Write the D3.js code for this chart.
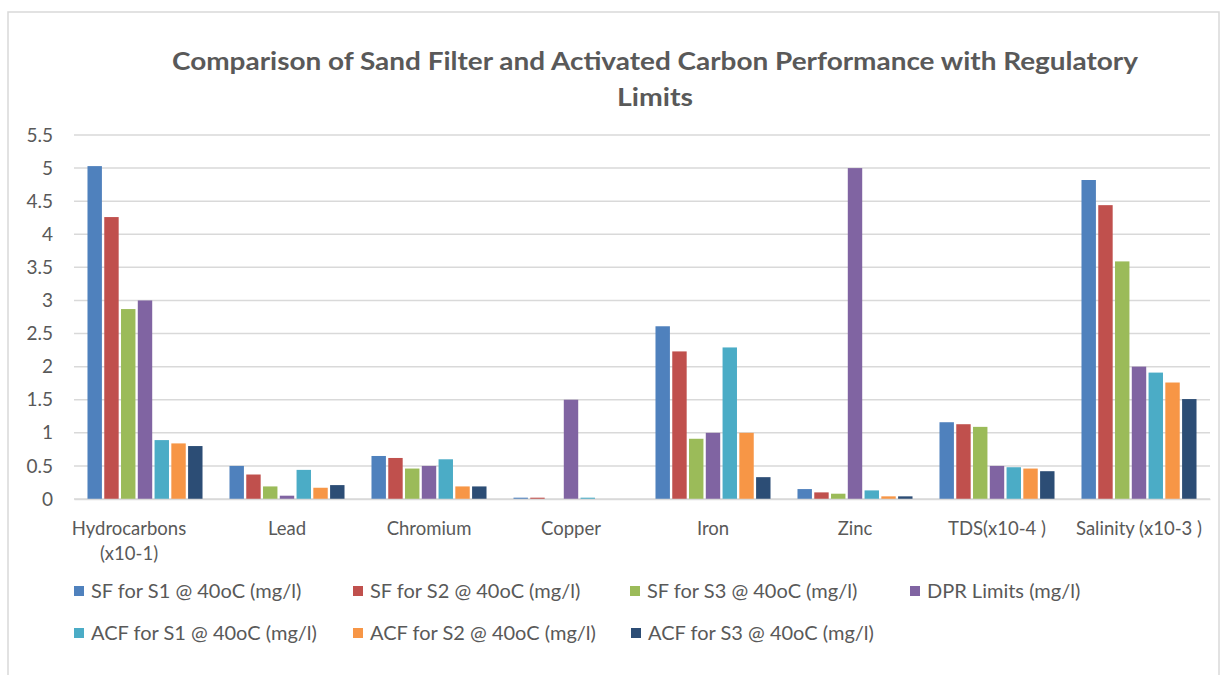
<!DOCTYPE html>
<html><head><meta charset="utf-8">
<script src="https://cdn.jsdelivr.net/npm/d3@7"></script>
<style>
body{margin:0;background:#fff;}
text{font-family:Lato,"Open Sans",sans-serif;fill:#595959;}
</style></head>
<body><svg id="c" width="1224" height="675"></svg>
<script>
const categories = ["Hydrocarbons|(x10-1)","Lead","Chromium","Copper","Iron","Zinc","TDS(x10-4 )","Salinity (x10-3 )"];
const seriesNames = ["SF for S1 @ 40oC (mg/l)","SF for S2 @ 40oC (mg/l)","SF for S3 @ 40oC (mg/l)","DPR Limits (mg/l)","ACF for S1 @ 40oC (mg/l)","ACF for S2 @ 40oC (mg/l)","ACF for S3 @ 40oC (mg/l)"];
const colors = ["#4F81BD","#C0504D","#9BBB59","#8064A2","#4BACC6","#F79646","#2C4D75"];
const sf1  = [5.03,0.50,0.65,0.02,2.61,0.15,1.16,4.82];
const sf2  = [4.26,0.37,0.62,0.02,2.23,0.10,1.13,4.44];
const sf3  = [2.87,0.19,0.46,0.00,0.91,0.08,1.09,3.59];
const dpr  = [3.00,0.05,0.50,1.50,1.00,5.00,0.50,2.00];
const acf1 = [0.89,0.44,0.60,0.02,2.29,0.13,0.48,1.91];
const acf2 = [0.84,0.17,0.19,0.00,1.00,0.04,0.46,1.76];
const acf3 = [0.80,0.21,0.19,0.00,0.33,0.04,0.42,1.51];
const yTicks = [0,0.5,1,1.5,2,2.5,3,3.5,4,4.5,5,5.5];
const seriesValues = [sf1,sf2,sf3,dpr,acf1,acf2,acf3];

const svg = d3.select("#c");
svg.append("rect").attr("x",8).attr("y",12).attr("width",1211).attr("height",700)
  .attr("fill","#fff").attr("stroke","#d9d9d9").attr("stroke-width",1.5);

const title = svg.append("text").attr("text-anchor","middle").attr("font-weight",700)
  .attr("font-size",25);
title.append("tspan").attr("x",655).attr("y",70)
  .attr("textLength",966).attr("lengthAdjust","spacingAndGlyphs")
  .text("Comparison of Sand Filter and Activated Carbon Performance with Regulatory");
title.append("tspan").attr("x",655).attr("y",106)
  .attr("textLength",76).attr("lengthAdjust","spacingAndGlyphs").text("Limits");

const y = d3.scaleLinear().domain([0,5.5]).range([499,135]);
const x0 = d3.scaleBand().domain(categories).range([74,1210]).paddingInner(0.19).paddingOuter(0.095);
const x1 = d3.scaleBand().domain(seriesNames).range([0,x0.bandwidth()]).paddingInner(0.14);

svg.append("g").selectAll("line").data(yTicks).join("line")
  .attr("x1",74).attr("x2",1210).attr("y1",d=>y(d)).attr("y2",d=>y(d))
  .attr("stroke","#d9d9d9").attr("stroke-width",1.5);

const yAxis = d3.axisLeft(y).tickValues(yTicks).tickSize(0).tickPadding(0).tickFormat(d3.format("~g"));
const ya = svg.append("g").attr("transform","translate(53,0)").call(yAxis);
ya.select(".domain").remove();
ya.selectAll("text").attr("font-size",19).attr("fill","#595959").attr("font-family","Lato,'Open Sans',sans-serif");

const groups = svg.append("g").selectAll("g").data(categories).join("g")
  .attr("transform",d=>`translate(${x0(d)},0)`);
groups.selectAll("rect").data((d,i)=>seriesNames.map((s,j)=>({s,v:seriesValues[j][i],c:colors[j]})))
  .join("rect")
  .attr("x",d=>x1(d.s)).attr("width",x1.bandwidth())
  .attr("y",d=>y(d.v)).attr("height",d=>y(0)-y(d.v))
  .attr("fill",d=>d.c);

const xa = svg.append("g").attr("transform","translate(0,499)")
  .call(d3.axisBottom(x0).tickSize(0).tickFormat(""));
xa.select(".domain").attr("stroke","#d9d9d9").attr("stroke-width",1.5);
categories.forEach(c=>{
  const parts = c.split("|");
  const cx = x0(c)+x0.bandwidth()/2 - (parts.length>1?16:0);
  const t = svg.append("text").attr("text-anchor","middle").attr("font-size",18.5);
  parts.forEach((p,k)=>t.append("tspan").attr("x",cx).attr("y",535+k*25).text(p));
});

const legendPos = [[74,591],[353,591],[630,591],[910,591],[74,633],[353,633],[631,633]];
const lg = svg.append("g").selectAll("g").data(seriesNames).join("g")
  .attr("transform",(d,i)=>`translate(${legendPos[i][0]},${legendPos[i][1]})`);
lg.append("rect").attr("x",0).attr("y",-5).attr("width",10).attr("height",10).attr("fill",(d,i)=>colors[i]);
lg.append("text").attr("x",17).attr("y",7).attr("font-size",20).text(d=>d);
</script></body></html>
